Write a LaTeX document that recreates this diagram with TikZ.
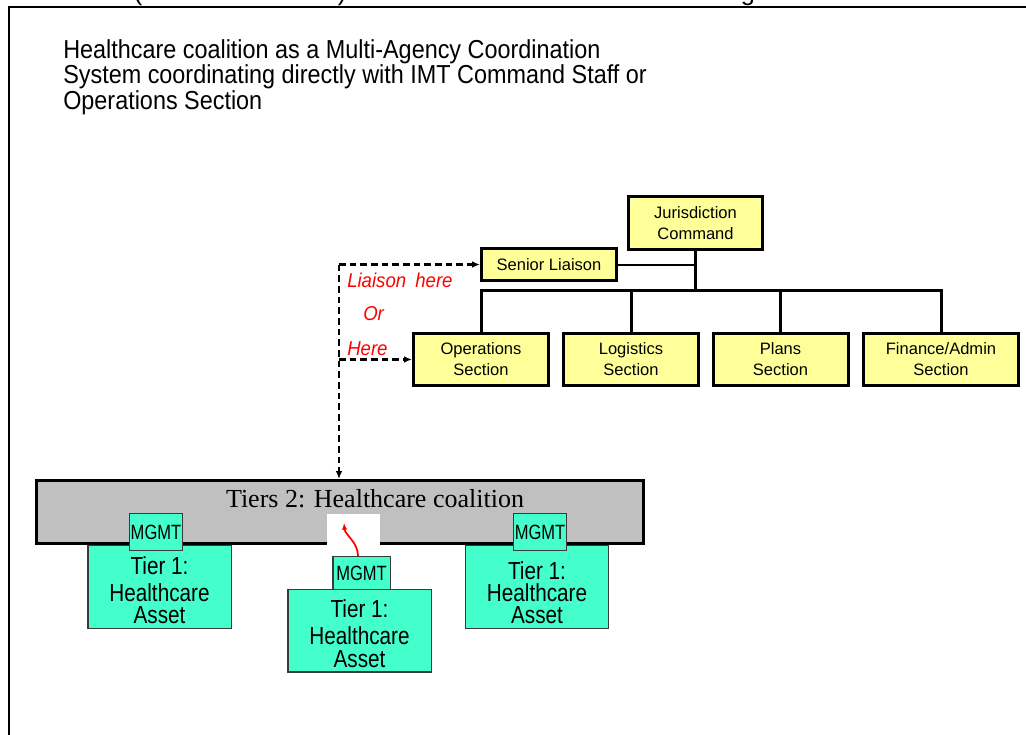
\documentclass[tikz,border=0pt]{standalone}
\usepackage{fontspec}
\setmainfont{Liberation Serif}
\newfontfamily\sansf{Liberation Sans}
\newfontfamily\headf[FakeStretch=0.9]{Liberation Sans}
\newfontfamily\narrowf[FakeStretch=0.84]{Liberation Sans}
\newfontfamily\mgmtf[FakeStretch=0.8]{Liberation Sans}
\newfontfamily\notef[FakeStretch=0.93]{Liberation Sans}
\usetikzlibrary{arrows.meta,calc}
\definecolor{boxyellow}{HTML}{FFFF99}
\definecolor{tiergray}{HTML}{C0C0C0}
\definecolor{assetteal}{HTML}{44FFCC}
\definecolor{assetedge}{HTML}{3A3A3A}
\definecolor{notered}{HTML}{FF0000}
\begin{document}
\begin{tikzpicture}[x=0.75pt,y=-0.75pt,
  orgbox/.style={draw=black, line width=2.25pt, fill=boxyellow, align=center,
    inner sep=0pt, font=\sansf\fontsize{12.4}{15.75}\selectfont},
  orgline/.style={line width=2.25pt, line join=miter},
  liaisonline/.style={line width=1.5pt},
  dashlink/.style={line width=1.6pt, dash pattern=on 5pt off 3pt,
    -{Latex[length=6pt,width=5pt]}},
  assetbox/.style={draw=assetedge, line width=1.1pt, fill=assetteal, inner sep=0pt,
    minimum width=107.6pt, minimum height=61.9pt},
  assettext/.style={anchor=north, align=center, inner sep=0pt,
    font=\narrowf\fontsize{18.5}{16.8}\selectfont},
  mgmtbox/.style={draw=assetedge, line width=1.1pt, fill=assetteal, inner sep=0pt,
    font=\mgmtf\fontsize{15.5}{15.5}\selectfont},
  note/.style={anchor=base west, inner sep=0pt, text=notered,
    font=\notef\itshape\fontsize{15}{15}\selectfont},
  cutglyph/.style={anchor=base, inner sep=0pt, font=\sansf\fontsize{19}{19}\selectfont}
]
\useasboundingbox (0,0) rectangle (1026,735);

% glyphs of the title line above the frame
\node[cutglyph] (gl1) at (138,1) {(};
\node[cutglyph] (gl2) at (342,1) {)};
\node[cutglyph] (gl3) at (748,1) {g};
% outer frame
\draw[line width=2pt] (9,800) -- (9,7) -- (1100,7);

% heading
\node[anchor=north west, align=left, inner sep=0pt,
  font=\headf\fontsize{19.5}{17.25}\selectfont] (title) at (63,39)
  {Healthcare coalition as a Multi-Agency Coordination\\
   System coordinating directly with IMT Command Staff or\\
   Operations Section};

% command structure
\node[orgbox, minimum width=100.5pt, minimum height=39.75pt] (jur) at (695.5,223)
  {Jurisdiction\\Command};
\node[orgbox, minimum width=101.25pt, minimum height=24pt] (liaison) at (549,264.5)
  {Senior Liaison};
\node[orgbox, minimum width=101.25pt, minimum height=39pt] (ops) at (481,359.5)
  {Operations\\Section};
\node[orgbox, minimum width=101.25pt, minimum height=39pt] (log) at (631,359.5)
  {Logistics\\Section};
\node[orgbox, minimum width=101.25pt, minimum height=39pt] (plans) at (780.5,359.5)
  {Plans\\Section};
\node[orgbox, minimum width=116.25pt, minimum height=39pt] (fin) at (941,359.5)
  {Finance/Admin\\Section};

\coordinate (trunk) at (695.5,290);
\draw[orgline] (jur.south) -- (trunk);
\draw[orgline] (ops.north) -- (ops.north |- trunk) -- (fin.north |- trunk) -- (fin.north);
\draw[orgline] (log.north) -- (log.north |- trunk);
\draw[orgline] (plans.north) -- (plans.north |- trunk);
\draw[liaisonline] (liaison.east) -- (liaison.east -| jur.south);

% coalition tier
\node[draw=black, line width=1.9pt, fill=tiergray, inner sep=0pt,
  minimum width=455.6pt, minimum height=47.6pt] (tiers) at (340,512) {};
\node[anchor=base, inner sep=0pt, font=\fontsize{19.5}{19.5}\selectfont] (tierslabel)
  at (375,507) {Tiers 2: Healthcare coalition};
\fill[white] (327,514) rectangle (380,546.5);

% dashed liaison options
\coordinate (corner) at (339,264.5);
\draw[dashlink] (corner) -- (liaison.west);
\draw[dashlink] (corner |- ops.west) -- (ops.west);
\draw[dashlink] (corner) -- (corner |- tiers.north);
\node[note] (note1) at (347,287) {Liaison\hspace{3pt} here};
\node[note] (note2) at (363,320) {Or};
\node[note] (note3) at (347,355) {Here};

% healthcare assets
\node[assetbox] (asseta) at (159.5,587) {};
\node[assetbox] (assetc) at (537,587) {};
\node[assetbox] (assetb) at (359.5,630.5) {};
\node[assettext] (asseta text) at (159.5,556) {Tier 1:\\[3.5pt]Healthcare\\Asset};
\node[assettext] (assetc text) at (537,561) {Tier 1:\\Healthcare\\Asset};
\node[assettext] (assetb text) at (359.5,599) {Tier 1:\\[4pt]Healthcare\\Asset};
\node[mgmtbox, minimum width=39.4pt, minimum height=27.4pt] (mgmta) at (156,532) {MGMT};
\node[mgmtbox, minimum width=39.4pt, minimum height=27.4pt] (mgmtc) at (540,532) {MGMT};
\node[mgmtbox, minimum width=43.1pt, minimum height=24.4pt] (mgmtb) at (361.5,573) {MGMT};

\coordinate (uptip) at (344,523);
\draw[notered, line width=1.3pt, -{Latex[length=5pt,width=4pt]}]
  ($(mgmtb.north)+(-3.5,0)$) .. controls +(0,-14) and +(1,12) .. (uptip);
\end{tikzpicture}
\end{document}
